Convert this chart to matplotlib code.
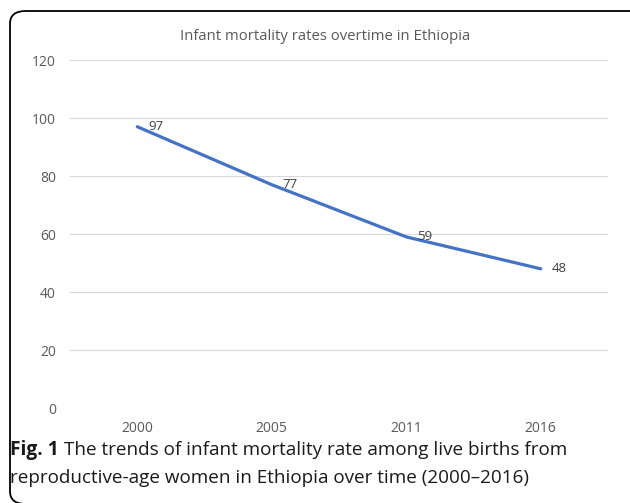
import matplotlib.pyplot as plt
from matplotlib.patches import FancyBboxPatch

years = ["2000", "2005", "2011", "2016"]
imr = [97, 77, 59, 48]
y_ticks = [0, 20, 40, 60, 80, 100, 120]

W, H = 630, 503
plt.rcParams["font.family"] = ["Open Sans", "DejaVu Sans"]

fig = plt.figure(figsize=(W / 100, H / 100), dpi=100)
ax = fig.add_axes([70 / W, 1 - 408 / H, 538 / W, 348 / H])

x = list(range(len(years)))
ax.plot(x, imr, color="#4472C4", lw=2.3, solid_capstyle="round")
for xi, v in zip(x, imr):
    ax.annotate(str(v), (xi, v), xytext=(8, 0), textcoords="offset points",
                va="center", ha="left", fontsize=9.5, color="#404040")

ax.set_xlim(-0.5, len(years) - 0.5)
ax.set_ylim(0, 120)
ax.set_xticks(x, years)
ax.set_yticks(y_ticks)
ax.grid(axis="y", color="#d9d9d9", lw=0.8)
ax.set_axisbelow(True)
for s in ax.spines.values():
    s.set_visible(False)
ax.tick_params(length=0, labelsize=10, labelcolor="#595959", pad=9)
ax.tick_params(axis="y", pad=10)

fig.text(325 / W, 1 - 36 / H, "Infant mortality rates overtime in Ethiopia",
         ha="center", va="center", fontsize=10.7, color="#595959")

# caption
cap_y1 = 1 - 450 / H
cap_y2 = 1 - 478 / H
t1 = fig.text(10 / W, cap_y1, "Fig. 1", fontsize=13.8, fontweight="bold",
              va="center", ha="left", color="#1a1a1a")
fig.canvas.draw()
bb = t1.get_window_extent()
fig.text((bb.x1 + 5) / W, cap_y1,
         "The trends of infant mortality rate among live births from",
         fontsize=13.6, va="center", ha="left", color="#1a1a1a")
fig.text(10 / W, cap_y2,
         "reproductive-age women in Ethiopia over time (2000\u20132016)",
         fontsize=13.6, va="center", ha="left", color="#1a1a1a")

frame = FancyBboxPatch((10 / W, 1 - 504 / H), 640 / W, 493 / H,
                       boxstyle="round,pad=0,rounding_size=0.025",
                       transform=fig.transFigure, fill=False,
                       ec="black", lw=1.3, clip_on=False)
fig.patches.append(frame)

fig.savefig("out.png", dpi=100)
